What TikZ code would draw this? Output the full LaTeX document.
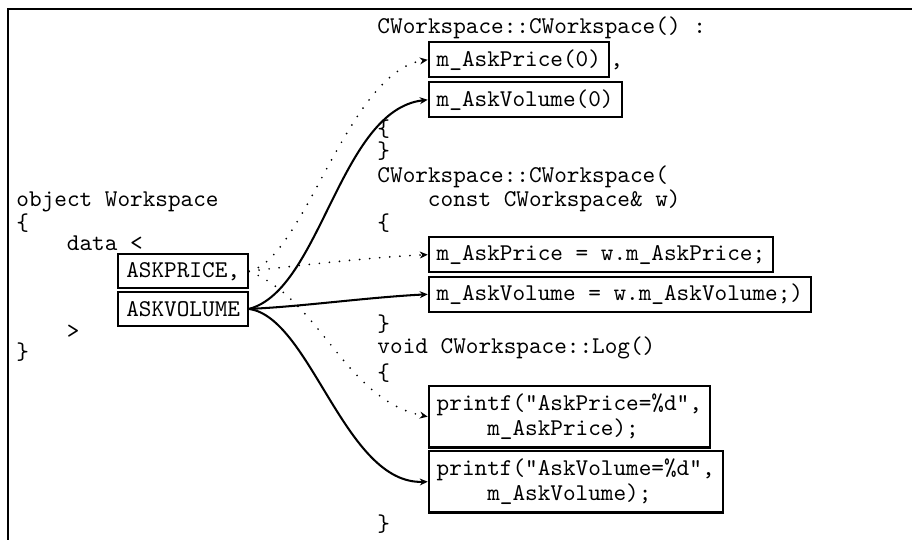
\documentclass[tikz,border=0pt]{standalone}
\usepackage{fontspec}
\usetikzlibrary{arrows.meta}
\begin{document}
\begin{tikzpicture}[x=0.41563pt,y=-0.41563pt,
  every node/.style={font=\ttfamily\fontsize{10}{9}\selectfont},
  txt/.style={anchor=base west, inner sep=0pt},
  codebox/.style={draw, line width=0.85pt, anchor=west, inner xsep=3.33pt, inner ysep=0pt, minimum height=14.6pt, align=left},
  askbox/.style={codebox, minimum height=14pt},
  codeboxtwo/.style={codebox, minimum height=25.6pt},
  tipstyle/.style={-{Stealth[length=3.3pt,width=2.9pt]}},
  solidarrow/.style={tipstyle, line width=0.85pt},
  dotarrow/.style={tipstyle, line width=0.8pt, line cap=round, dash pattern=on 0pt off 4.2pt},
  frameline/.style={line width=0.9pt}
]
\useasboundingbox (0,0) rectangle (912,540);
% frame
\coordinate (fbl) at (7.7,540);
\coordinate (ftl) at (7.7,9);
\coordinate (ftr) at (912,9);
\draw[frameline] (fbl) -- (ftl) -- (ftr);

% left column
\node[txt] (l1) at (16,207) {object Workspace};
\node[txt] (l2) at (16,231) {\{};
\node[txt] (l3) at (66.5,250.7) {data <};
\node[askbox] (AP) at (117.3,271.3) {ASKPRICE,};
\node[askbox] (AV) at (117.3,308.9) {ASKVOLUME};
\node[txt] (l4) at (66.5,339) {>};
\node[txt] (l5) at (16,360) {\}};

% right column
\node[txt] (r1) at (377,34) {CWorkspace::CWorkspace() :};
\node[codebox] (A1) at (427.7,59.8) {m\_AskPrice(0)};
\node[txt] (comma) at (A1.base east) {,};
\node[codebox] (A2) at (427.7,99.8) {m\_AskVolume(0)};
\node[txt] (r2) at (377,137) {\{};
\node[txt] (r3) at (377,158.5) {\}};
\node[txt] (r4) at (377,183) {CWorkspace::CWorkspace(};
\node[txt] (r5) at (427.5,206.5) {const CWorkspace\& w)};
\node[txt] (r6) at (377,231) {\{};
\node[codebox] (B1) at (427.7,254.7) {m\_AskPrice = w.m\_AskPrice;};
\node[codebox] (B2) at (427.7,294.3) {m\_AskVolume = w.m\_AskVolume;)};
\node[txt] (r7) at (377,332) {\}};
\node[txt] (r8) at (377,354) {void CWorkspace::Log()};
\node[txt] (r9) at (377,381) {\{};
\node[codeboxtwo] (C1) at (427.7,416.7) {printf("AskPrice=\%d",\\\hphantom{xxxx}m\_AskPrice);};
\node[codeboxtwo] (C2) at (427.7,481.7) {printf("AskVolume=\%d",\\\hphantom{xxxx}m\_AskVolume);};
\node[txt] (r10) at (377,531.3) {\}};

% connectors from ASKPRICE (dotted)
\draw[dotarrow] (AP.east) .. controls +(55,-12) and +(-80,12) .. (A1.west);
\draw[dotarrow] (AP.east) .. controls +(40,-5) and +(-50,2) .. (B1.west);
\draw[dotarrow] (AP.east) .. controls +(72,29) and +(-83,-17) .. (C1.west);
% connectors from ASKVOLUME (solid)
\draw[solidarrow] (AV.east) .. controls +(72,-19) and +(-88,10) .. (A2.west);
\draw[solidarrow] (AV.east) .. controls +(50,-2) and +(-60,3) .. (B2.west);
\draw[solidarrow] (AV.east) .. controls +(62,9) and +(-83,3) .. (C2.west);
\end{tikzpicture}
\end{document}
